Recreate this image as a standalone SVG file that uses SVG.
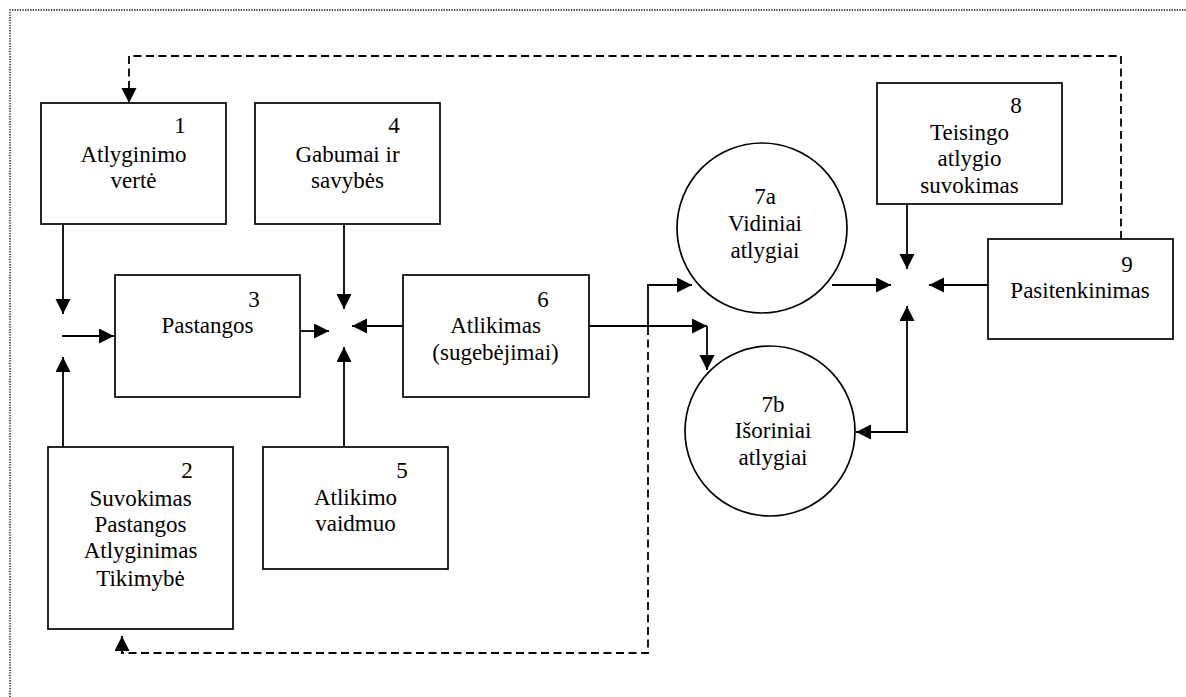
<svg xmlns="http://www.w3.org/2000/svg" width="1186" height="697" viewBox="0 0 1186 697">
<defs>
<style>
.box{fill:#fff;stroke:#000;stroke-width:1.7}
.t{font-family:'Liberation Serif','Times New Roman',Times,'DejaVu Serif',serif;font-size:23px;fill:#000;text-anchor:middle}
.ln{fill:none;stroke:#000;stroke-width:1.8}
.dash{fill:none;stroke:#000;stroke-width:1.8;stroke-dasharray:8 4.5}
</style>
<marker id="ah" markerUnits="userSpaceOnUse" markerWidth="16" markerHeight="16" refX="15" refY="7.5" orient="auto-start-reverse" viewBox="0 0 16 16">
<path d="M0,0 L15,7.5 L0,15 z" fill="#000"/>
</marker>
</defs>
<rect width="1186" height="697" fill="#fff"/>
<path d="M10,697 V10 H1186" fill="none" stroke="#000" stroke-width="1.3" stroke-dasharray="1.3 1.3"/>

<g id="n1" font-family="Liberation Serif, serif"><rect class="box" x="41" y="103" width="185" height="121"/>
<text class="t" x="180" y="133">1</text><text class="t" x="133.5" y="162">Atlyginimo</text><text class="t" x="133.5" y="188">vertė</text></g>

<g id="n4" font-family="Liberation Serif, serif"><rect class="box" x="255" y="103" width="185" height="121"/>
<text class="t" x="394" y="133">4</text><text class="t" x="347.5" y="162">Gabumai ir</text><text class="t" x="347.5" y="188">savybės</text></g>

<g id="n3" font-family="Liberation Serif, serif"><rect class="box" x="115" y="275" width="185" height="122"/>
<text class="t" x="254" y="307">3</text><text class="t" x="207.5" y="333">Pastangos</text></g>

<g id="n6" font-family="Liberation Serif, serif"><rect class="box" x="403" y="275" width="186" height="122"/>
<text class="t" x="543" y="307">6</text><text class="t" x="495.5" y="333">Atlikimas</text><text class="t" x="495.5" y="360">(sugebėjimai)</text></g>

<g id="n2" font-family="Liberation Serif, serif"><rect class="box" x="48" y="447" width="185" height="182"/>
<text class="t" x="187" y="478">2</text><text class="t" x="140.5" y="506">Suvokimas</text><text class="t" x="140.5" y="532">Pastangos</text><text class="t" x="140.5" y="558">Atlyginimas</text><text class="t" x="140.5" y="586">Tikimybė</text></g>

<g id="n5" font-family="Liberation Serif, serif"><rect class="box" x="263" y="447" width="185" height="122"/>
<text class="t" x="402" y="478">5</text><text class="t" x="355.5" y="505">Atlikimo</text><text class="t" x="355.5" y="531">vaidmuo</text></g>

<g id="n7a" font-family="Liberation Serif, serif"><circle class="box" cx="762" cy="228" r="85"/>
<text class="t" x="765" y="204">7a</text><text class="t" x="765" y="231">Vidiniai</text><text class="t" x="765" y="258">atlygiai</text></g>

<g id="n7b" font-family="Liberation Serif, serif"><circle class="box" cx="770" cy="431" r="85"/>
<text class="t" x="773" y="412">7b</text><text class="t" x="773" y="438">Išoriniai</text><text class="t" x="773" y="465">atlygiai</text></g>

<g id="n8" font-family="Liberation Serif, serif"><rect class="box" x="877" y="83" width="185" height="121"/>
<text class="t" x="1016" y="113">8</text><text class="t" x="969.5" y="140">Teisingo</text><text class="t" x="969.5" y="166">atlygio</text><text class="t" x="969.5" y="193">suvokimas</text></g>

<g id="n9" font-family="Liberation Serif, serif"><rect class="box" x="988" y="239" width="185" height="100"/>
<text class="t" x="1127" y="272">9</text><text class="t" x="1080" y="298">Pasitenkinimas</text></g>

<g id="connectors">
<path class="ln" d="M63,224 V314" marker-end="url(#ah)"/>
<path class="ln" d="M62,336 H114" marker-end="url(#ah)"/>
<path class="ln" d="M63,447 V357" marker-end="url(#ah)"/>
<path class="ln" d="M300,331 H329" marker-end="url(#ah)"/>
<path class="ln" d="M344,224 V309" marker-end="url(#ah)"/>
<path class="ln" d="M403,326 H352" marker-end="url(#ah)"/>
<path class="ln" d="M344,447 V347" marker-end="url(#ah)"/>
<path class="ln" d="M589,326 H707" marker-end="url(#ah)"/>
<path class="ln" d="M707,326 V370" marker-end="url(#ah)"/>
<path class="ln" d="M648,326 V285 H692" marker-end="url(#ah)"/>
<path class="ln" d="M832,285 H891" marker-end="url(#ah)"/>
<path class="ln" d="M907,204 V269" marker-end="url(#ah)"/>
<path class="ln" d="M988,285 H929" marker-end="url(#ah)"/>
<path class="ln" d="M856,432 H907 V306" marker-start="url(#ah)" marker-end="url(#ah)"/>
<path class="dash" d="M1121,239 V56 H129 V103" marker-end="url(#ah)"/>
<path class="dash" d="M648,327 V653 H122 V636" marker-end="url(#ah)"/>
</g>
</svg>
